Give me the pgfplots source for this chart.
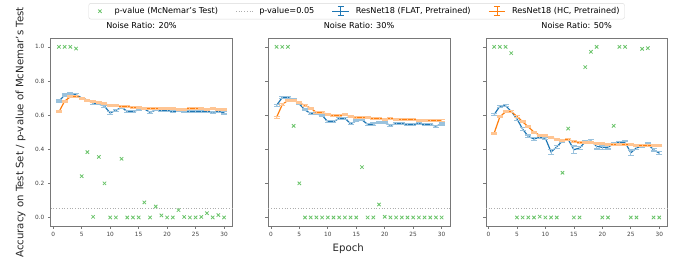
\documentclass[border=0pt]{standalone}
\usepackage{pgfplots}
\pgfplotsset{compat=1.18}
\usepackage{pgfplotstable}
\usepackage{fontspec}
\setmainfont{DejaVu Sans}
\definecolor{cblue}{HTML}{1F77B4}
\definecolor{corange}{HTML}{FF7F0E}
\definecolor{cgreen}{RGB}{105,195,105}
\definecolor{axgray}{RGB}{120,120,120}
\newcommand{\tickfont}{\fontsize{5.8bp}{7bp}\selectfont}
\newcommand{\legfont}{\fontsize{8.15bp}{9.8bp}\selectfont}
\newcommand{\labfont}{\fontsize{10.2bp}{12bp}\selectfont}

% epoch, accuracy, error
\pgfplotstableread{
x y e
1 0.682 0.006
2 0.717 0.006
3 0.728 0.005
4 0.720 0.005
5 0.700 0.005
6 0.688 0.005
7 0.670 0.006
8 0.665 0.005
9 0.652 0.006
10 0.612 0.007
11 0.628 0.005
12 0.645 0.005
13 0.622 0.005
14 0.622 0.005
15 0.630 0.005
16 0.636 0.005
17 0.616 0.006
18 0.630 0.005
19 0.628 0.005
20 0.628 0.005
21 0.620 0.005
22 0.624 0.005
23 0.623 0.005
24 0.622 0.005
25 0.622 0.005
26 0.622 0.005
27 0.622 0.005
28 0.617 0.006
29 0.622 0.005
30 0.613 0.007
}\flatA
\pgfplotstableread{
x y e
1 0.619 0.005
2 0.682 0.005
3 0.707 0.005
4 0.709 0.005
5 0.700 0.005
6 0.688 0.005
7 0.678 0.005
8 0.672 0.005
9 0.665 0.005
10 0.658 0.005
11 0.654 0.005
12 0.650 0.005
13 0.650 0.005
14 0.645 0.005
15 0.643 0.005
16 0.641 0.005
17 0.639 0.005
18 0.639 0.005
19 0.637 0.005
20 0.637 0.005
21 0.637 0.005
22 0.635 0.005
23 0.634 0.005
24 0.639 0.005
25 0.638 0.005
26 0.636 0.005
27 0.634 0.005
28 0.636 0.005
29 0.634 0.005
30 0.634 0.005
}\hcA
\pgfplotstableread{
x p
1 1.0
2 1.0
3 1.0
4 0.99
5 0.242
6 0.383
7 0.004
8 0.355
9 0.200
10 0.0
11 0.0
12 0.344
13 0.0
14 0.0
15 0.0
16 0.088
17 0.0
18 0.064
19 0.012
20 0.0
21 0.0
22 0.043
23 0.003
24 0.0
25 0.0
26 0.003
27 0.025
28 0.0
29 0.014
30 0.0
}\pA

\pgfplotstableread{
x y e
1 0.657 0.005
2 0.703 0.005
3 0.703 0.005
4 0.691 0.005
5 0.665 0.005
6 0.630 0.005
7 0.609 0.005
8 0.607 0.005
9 0.599 0.005
10 0.561 0.006
11 0.561 0.006
12 0.581 0.005
13 0.581 0.005
14 0.549 0.006
15 0.566 0.005
16 0.572 0.005
17 0.546 0.006
18 0.547 0.006
19 0.558 0.005
20 0.554 0.005
21 0.540 0.005
22 0.550 0.005
23 0.550 0.005
24 0.545 0.005
25 0.545 0.005
26 0.550 0.005
27 0.544 0.005
28 0.544 0.005
29 0.535 0.006
30 0.548 0.006
}\flatB
\pgfplotstableread{
x y e
1 0.587 0.005
2 0.661 0.005
3 0.687 0.005
4 0.687 0.005
5 0.671 0.005
6 0.657 0.005
7 0.640 0.005
8 0.616 0.005
9 0.614 0.005
10 0.605 0.005
11 0.597 0.005
12 0.597 0.005
13 0.601 0.005
14 0.593 0.005
15 0.587 0.005
16 0.587 0.005
17 0.583 0.005
18 0.581 0.005
19 0.581 0.005
20 0.577 0.005
21 0.579 0.005
22 0.577 0.005
23 0.575 0.005
24 0.575 0.005
25 0.573 0.005
26 0.571 0.005
27 0.571 0.005
28 0.568 0.005
29 0.569 0.005
30 0.569 0.005
}\hcB
\pgfplotstableread{
x p
1 1.0
2 1.0
3 1.0
4 0.537
5 0.200
6 0.0
7 0.0
8 0.0
9 0.0
10 0.0
11 0.0
12 0.0
13 0.0
14 0.0
15 0.0
16 0.295
17 0.0
18 0.0
19 0.076
20 0.004
21 0.0
22 0.0
23 0.0
24 0.0
25 0.0
26 0.0
27 0.0
28 0.0
29 0.0
30 0.0
}\pB

\pgfplotstableread{
x y e
1 0.603 0.005
2 0.652 0.006
3 0.655 0.006
4 0.622 0.006
5 0.578 0.008
6 0.518 0.008
7 0.475 0.008
8 0.460 0.008
9 0.470 0.006
10 0.464 0.006
11 0.384 0.015
12 0.414 0.008
13 0.449 0.006
14 0.458 0.006
15 0.397 0.022
16 0.407 0.010
17 0.443 0.008
18 0.448 0.008
19 0.417 0.016
20 0.411 0.014
21 0.412 0.010
22 0.431 0.006
23 0.441 0.006
24 0.441 0.008
25 0.379 0.016
26 0.408 0.008
27 0.417 0.006
28 0.428 0.008
29 0.397 0.008
30 0.377 0.008
}\flatC
\pgfplotstableread{
x y e
1 0.494 0.005
2 0.590 0.005
3 0.619 0.005
4 0.621 0.005
5 0.592 0.005
6 0.561 0.005
7 0.531 0.005
8 0.500 0.005
9 0.482 0.005
10 0.479 0.005
11 0.467 0.005
12 0.459 0.005
13 0.453 0.005
14 0.457 0.005
15 0.445 0.005
16 0.439 0.005
17 0.441 0.005
18 0.438 0.005
19 0.432 0.005
20 0.432 0.005
21 0.430 0.005
22 0.428 0.005
23 0.426 0.005
24 0.428 0.005
25 0.426 0.005
26 0.424 0.005
27 0.422 0.005
28 0.422 0.005
29 0.420 0.005
30 0.420 0.005
}\hcC
\pgfplotstableread{
x p
1 1.0
2 1.0
3 1.0
4 0.963
5 0.0
6 0.0
7 0.0
8 0.0
9 0.005
10 0.0
11 0.0
12 0.0
13 0.262
14 0.521
15 0.0
16 0.0
17 0.881
18 0.971
19 1.0
20 0.0
21 0.0
22 0.537
23 1.0
24 1.0
25 0.0
26 0.0
27 0.988
28 0.992
29 0.0
30 0.0
}\pC

\pgfplotsset{
  panel/.style={
    scale only axis, width=181.6bp, height=187.7bp,
    xmin=-0.45, xmax=31.45, ymin=-0.05, ymax=1.05,
    xtick={0,5,...,30}, ytick={0,0.2,0.4,0.6,0.8,1.0},
    tick align=outside, tick pos=left, major tick length=2.9bp,
    axis line style={axgray, line width=0.7bp},
    every tick/.style={axgray, line width=0.6bp},
    ticklabel style={font=\tickfont, text=black!75},
    /pgf/number format/assume math mode=true,
    yticklabel={\pgfmathprintnumber[fixed,fixed zerofill,precision=1]{\tick}},
    title style={font=\legfont, at={(0.5,1)}, anchor=base, yshift=3.6bp},
    clip=false,
  },
  flatstyle/.style={cblue, line width=1.2bp, no marks,
    error bars/y dir=both, error bars/y explicit,
    error bars/error bar style={cblue!45, line width=0.9bp},
    error bars/error mark options={cblue!45, mark size=3bp, line width=1.3bp, rotate=90}},
  hcstyle/.style={corange, line width=1.2bp, no marks,
    error bars/y dir=both, error bars/y explicit,
    error bars/error bar style={corange!45, line width=0.9bp},
    error bars/error mark options={corange!45, mark size=3bp, line width=1.3bp, rotate=90}},
  pstyle/.style={only marks, mark=x, mark size=2.4bp, cgreen, mark options={line width=0.8bp}},
  thrstyle/.style={dash pattern=on 1bp off 1.7bp, black!32, line width=0.9bp},
  errleg/.style={legend image code/.code={
    \draw[line width=1.2bp] (0bp,0bp) -- (16.3bp,0bp);
    \draw[line width=0.8bp] (8.15bp,-4.5bp) -- (8.15bp,4.5bp);
    \draw[line width=0.8bp] (5.2bp,-4.5bp) -- (11.1bp,-4.5bp);
    \draw[line width=0.8bp] (5.2bp,4.5bp) -- (11.1bp,4.5bp);
  }},
}

\begin{document}
\begin{tikzpicture}
\path[use as bounding box] (0bp,0bp) rectangle (678bp,266bp);

\begin{axis}[panel, at={(50.7bp,40bp)}, anchor=south west,
  title={Noise Ratio: 20\%},
  legend columns=4,
  legend style={font=\legfont, at={(1.6846,1.1442)}, anchor=center,
    draw=black!15, rounded corners=2bp, fill=white,
    inner xsep=3bp, inner ysep=2bp,
    /tikz/every odd column/.append style={column sep=4.5bp},
    /tikz/every even column/.append style={column sep=15.5bp}},
  legend cell align=left]
\addlegendimage{pstyle, legend image code/.code={
    \path[draw=none, fill=none] (0bp,-1bp) rectangle (16.3bp,1bp);
    \begin{scope}[shift={(8.15bp,0bp)}]
      \pgfsetlinewidth{0.8bp}\pgfuseplotmark{x}
    \end{scope}}}
\addlegendentry{p-value (McNemar's Test)}
\addlegendimage{thrstyle, legend image code/.code={\draw (0bp,0bp) -- (16.3bp,0bp);}}
\addlegendentry{p-value=0.05}
\addlegendimage{cblue, errleg}
\addlegendentry{ResNet18 (FLAT, Pretrained)}
\addlegendimage{corange, errleg}
\addlegendentry{ResNet18 (HC, Pretrained)}
\addplot[forget plot, thrstyle] coordinates {(-0.45,0.05) (31.45,0.05)};
\addplot[forget plot, flatstyle] table[x=x, y=y, y error=e] {\flatA};
\addplot[forget plot, hcstyle] table[x=x, y=y, y error=e] {\hcA};
\addplot[forget plot, pstyle] table[x=x, y=p] {\pA};
\end{axis}

\begin{axis}[panel, at={(268.3bp,40bp)}, anchor=south west,
  title={Noise Ratio: 30\%}, yticklabels={}]
\addplot[thrstyle] coordinates {(-0.45,0.05) (31.45,0.05)};
\addplot[flatstyle] table[x=x, y=y, y error=e] {\flatB};
\addplot[hcstyle] table[x=x, y=y, y error=e] {\hcB};
\addplot[pstyle] table[x=x, y=p] {\pB};
\end{axis}

\begin{axis}[panel, at={(485.9bp,40bp)}, anchor=south west,
  title={Noise Ratio: 50\%}, yticklabels={}]
\addplot[thrstyle] coordinates {(-0.45,0.05) (31.45,0.05)};
\addplot[flatstyle] table[x=x, y=y, y error=e] {\flatC};
\addplot[hcstyle] table[x=x, y=y, y error=e] {\hcC};
\addplot[pstyle] table[x=x, y=p] {\pC};
\end{axis}

\node[font=\labfont, rotate=90, text=black!85] at (20.5bp,133.5bp) {Accuracy on Test Set / p-value of McNemar's Test};
\node[font=\labfont, text=black!85] at (348.3bp,17.7bp) {Epoch};
\end{tikzpicture}
\end{document}
